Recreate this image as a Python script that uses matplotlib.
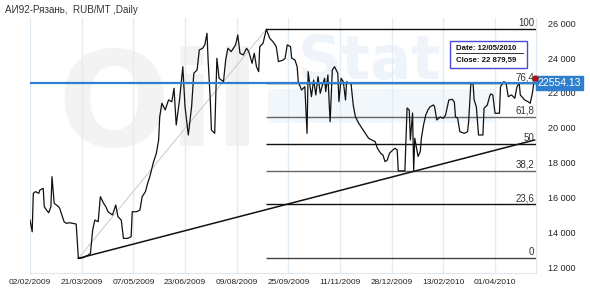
import numpy as np
import pandas as pd
import matplotlib
matplotlib.use("Agg")
from matplotlib import pyplot as plt
from matplotlib.patches import Rectangle
from matplotlib.lines import Line2D

plt.rcParams["font.family"] = ["Liberation Sans", "DejaVu Sans"]

# data (days after 02/02/2009, close price RUB/MT)
start = pd.Timestamp("2009-02-02")
day = [0, 2, 3, 5, 8, 9, 12, 13, 15, 17, 19, 20, 22, 24, 26, 27, 29, 31, 33, 36,
       39, 42, 44, 48, 53, 55, 57, 59, 62, 64, 67, 69, 71, 75, 78, 80, 83, 85, 89, 92,
       93, 97, 100, 102, 105, 107, 109, 112, 115, 117, 118, 120, 123, 126, 129, 131, 133, 136, 139, 141,
       144, 147, 149, 152, 154, 157, 159, 161, 162, 164, 165, 168, 170, 172, 174, 176, 178, 180, 183, 187,
       189, 191, 194, 197, 199, 202, 204, 206, 208, 209, 212, 215, 218, 221, 224, 226, 230, 232, 234, 237,
       238, 241, 243, 244, 247, 250, 252, 253, 256, 258, 260, 262, 264, 266, 268, 269, 271, 272, 273, 275,
       277, 280, 281, 283, 285, 287, 288, 290, 292, 294, 296, 299, 302, 305, 308, 311, 314, 316, 319, 321,
       323, 325, 327, 330, 332, 334, 335, 341, 343, 345, 346, 348, 349, 350, 353, 355, 356, 358, 360, 362,
       364, 367, 368, 370, 373, 376, 378, 381, 384, 386, 387, 389, 391, 395, 398, 399, 401, 403, 404, 406,
       408, 412, 413, 416, 418, 419, 421, 423, 427, 428, 431, 433, 435, 438, 441, 443, 445, 446, 450, 453,
       455, 457, 459]
close = [14709, 14037, 16242, 16337, 16242, 16431, 16529, 15472, 15283, 15128, 15472, 17194, 15668, 15570, 15472, 15380, 14996, 14611, 14519, 14554,
         14519, 14479, 12510, 12540, 12700, 12800, 14135, 14709, 14611, 16046, 15668, 15472, 15185, 14996, 15570, 14898, 14709, 13659, 13659, 13750,
         15185, 15185, 15283, 16046, 16337, 16815, 17194, 17963, 18555, 19301, 20638, 21408, 21023, 21597, 21499, 22269, 20162, 21597, 23508, 21212,
         19588, 21212, 23130, 23319, 24467, 24565, 24754, 25426, 23893, 21597, 19875, 19683, 23990, 22843, 22745, 22649, 23893, 24565, 24370, 24754,
         25328, 24278, 24180, 24565, 24370, 23704, 24278, 23508, 23221, 24657, 24852, 25657, 25139, 24943, 24657, 23796, 23883, 23980, 24754, 24657,
         23991, 23893, 23508, 22647, 22171, 22360, 19683, 23221, 21786, 22745, 21884, 22934, 21980, 22458, 22843, 22074, 23032, 21597, 20351, 23319,
         23508, 23130, 21500, 22843, 22647, 21597, 22647, 22555, 22555, 21310, 20638, 20260, 19972, 19683, 19398, 19301, 19204, 18825, 18537, 18440,
         18056, 18153, 18537, 18727, 18825, 18727, 17530, 17530, 21138, 21023, 19301, 20850, 17530, 19402, 18352, 18640, 19402, 20171, 20736, 21023,
         21212, 21310, 21212, 20449, 20621, 20546, 20736, 21597, 21637, 21482, 20638, 20546, 19778, 19683, 19778, 20351, 22515, 22573, 21597, 21212,
         19588, 19588, 21120, 21310, 21786, 21941, 21884, 20834, 20834, 22360, 22647, 22573, 21786, 21884, 21695, 22360, 22555, 21884, 21597, 21499,
         21405, 21999, 22879.59]

tick_days = [0, 47, 94, 141, 188, 235, 282, 329, 376, 423]
tick_labels = ["02/02/2009", "21/03/2009", "07/05/2009", "23/06/2009", "09/08/2009",
               "25/09/2009", "11/11/2009", "28/12/2009", "13/02/2010", "01/04/2010"]
y_ticks = [12000, 14000, 16000, 18000, 20000, 22000, 24000, 26000]

fib_levels = [100, 76.4, 61.8, 50, 38.2, 23.6, 0]
fib_labels = ["100", "76,4", "61,8", "50", "38,2", "23,6", "0"]
low_day, low_price = 44, 12510
high_day, high_price = 215, 25657
trend_end_price = 19300
level_line = 22554.13
tip_date = "12/05/2010"
tip_close = "22 879,59"

dates = start + pd.to_timedelta(day, unit="D")
x_left = start
x_right = start + pd.Timedelta(days=460)

fig = plt.figure(figsize=(5.9, 2.9), dpi=100)
fig.patch.set_facecolor("white")
ax = fig.add_axes([30 / 590, 17 / 290, 505.7 / 590, 255 / 290])
ax.set_xlim(x_left, x_right)
ax.set_ylim(11670, 26300)

# faint watermark
ax.text(0.055, 0.50, "Oil", transform=ax.transAxes, fontsize=95, fontweight="bold",
        color="#f3f3f3", zorder=0.5, family="DejaVu Sans")
ax.text(0.53, 0.76, "Stat", transform=ax.transAxes, fontsize=44, fontweight="bold",
        color="#eef4fa", zorder=0.5, family="DejaVu Sans")
ax.add_patch(Rectangle((0.47, 0.59), 0.45, 0.13, transform=ax.transAxes,
                       fc="#f2f7fb", ec="none", zorder=0.5))

# vertical grid
for d in tick_days:
    ax.axvline(start + pd.Timedelta(days=d), color="#e1edf6", lw=1, zorder=1)

# price line
ax.plot(dates, close, color="#111111", lw=0.9, zorder=4)

# thin diagonal low -> high
low_date = start + pd.Timedelta(days=low_day)
high_date = start + pd.Timedelta(days=high_day)
ax.plot([low_date, high_date], [low_price, high_price], color="#c8c8c8", lw=0.7, zorder=3)

# trend line
ax.plot([low_date, dates[-1]], [low_price, trend_end_price], color="#111111", lw=1.1, zorder=5)

# fibonacci levels
fib_colors = ["#111111", "#111111", "#666666", "#111111", "#666666", "#111111", "#444444"]
rng = high_price - low_price
for lv, lab, col in zip(fib_levels, fib_labels, fib_colors):
    price = low_price + rng * lv / 100
    ax.hlines(price, high_date, x_right, color=col, lw=1, zorder=3)
    ax.text(x_right - pd.Timedelta(days=1.5), price + 50, lab, ha="right", va="bottom",
            fontsize=7, color="#333333", zorder=6)

# blue level line
ax.axhline(level_line, color="#2f7fcf", lw=1.6, zorder=6)
ax.text(1.004, level_line, "%.2f" % level_line, transform=ax.get_yaxis_transform(),
        ha="left", va="center", fontsize=7.5, color="white", zorder=7,
        bbox=dict(boxstyle="square,pad=0.2", fc="#2f7fcf", ec="#2f7fcf"))

# last close marker
ax.plot(dates[-1], close[-1], "o", color="#aa1111", ms=3.5, zorder=8, clip_on=False)

# tooltip
ax.add_patch(Rectangle((0.83, 0.805), 0.152, 0.106, transform=ax.transAxes,
                       fc="white", ec="#4a4ad8", lw=1, zorder=7))
ax.text(0.843, 0.882, "Date: " + tip_date, transform=ax.transAxes, fontsize=5.6,
        fontweight="bold", color="#111111", va="center", zorder=8)
ax.add_line(Line2D([0.843, 0.975], [0.862, 0.862], transform=ax.transAxes,
                   color="#111111", lw=0.6, zorder=8))
ax.text(0.843, 0.834, "Close: " + tip_close, transform=ax.transAxes, fontsize=5.6,
        fontweight="bold", color="#111111", va="center", zorder=8)

# axes styling
ax.set_xticks([start + pd.Timedelta(days=d) for d in tick_days])
ax.set_xticklabels(tick_labels)
ax.yaxis.tick_right()
ax.set_yticks(y_ticks)
ax.set_yticklabels([f"{v:,}".replace(",", " ") for v in y_ticks])
ax.tick_params(axis="x", length=0, pad=4, labelsize=6, labelcolor="#222222")
ax.tick_params(axis="y", length=0, pad=9, labelsize=6.5, labelcolor="#222222")
for s in ["top", "left"]:
    ax.spines[s].set_visible(False)
for s in ["right", "bottom"]:
    ax.spines[s].set_color("#dce8f2")

fig.text(5 / 590, 1 - 10 / 290, "АИ92-Рязань,  RUB/MT ,Daily", fontsize=7.1,
         color="#333333", va="center", ha="left")

fig.savefig("out.png", dpi=100)
